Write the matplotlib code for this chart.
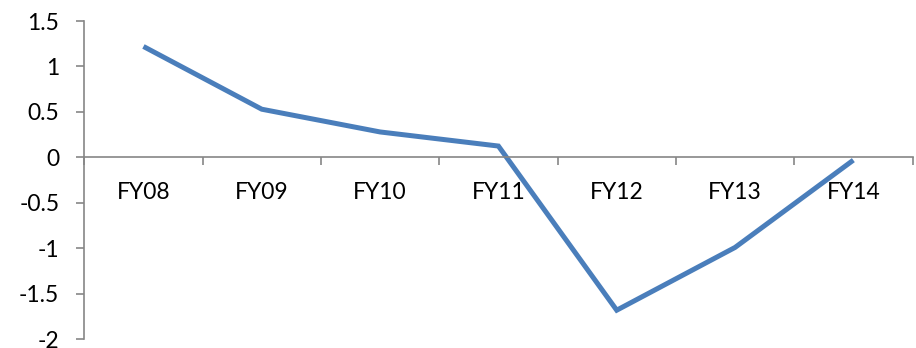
import matplotlib
matplotlib.use("Agg")
import matplotlib.pyplot as plt
import numpy as np

categories = ["FY08", "FY09", "FY10", "FY11", "FY12", "FY13", "FY14"]
values = [1.22, 0.53, 0.28, 0.125, -1.68, -0.99, -0.03]
y_ticks = [-2, -1.5, -1, -0.5, 0, 0.5, 1, 1.5]
y_labels = ["-2", "-1.5", "-1", "-0.5", "0", "0.5", "1", "1.5"]

plt.rcParams['font.family'] = ['Lato', 'DejaVu Sans']

W, H = 916, 348
fig = plt.figure(figsize=(W/100, H/100), dpi=100)
left, right, top, bottom = 84.3, 912.5, 21.0, 339.3
ax = fig.add_axes([left/W, 1-bottom/H, (right-left)/W, (bottom-top)/H])

x = np.arange(len(categories))
ax.plot(x, values, color="#4A7EBB", linewidth=3.6, solid_joinstyle="miter", solid_capstyle="butt")

ax.set_xlim(-0.5, len(categories)-0.5)
ax.set_ylim(-2, 1.5)

gray = "#868686"
for s in ["top", "right"]:
    ax.spines[s].set_visible(False)
ax.spines["left"].set_color(gray)
ax.spines["left"].set_linewidth(1.2)
ax.spines["bottom"].set_position(("data", 0))
ax.spines["bottom"].set_color(gray)
ax.spines["bottom"].set_linewidth(1.2)

ax.set_yticks(y_ticks)
ax.set_yticklabels(y_labels)
ax.tick_params(axis="y", direction="out", length=6, width=1.2, color=gray, pad=12, labelsize=16.5)

ax.set_xticks(np.arange(len(categories)+1)-0.5)
ax.set_xticklabels([])
ax.set_xticks(x, minor=True)
ax.set_xticklabels(categories, minor=True)
ax.tick_params(axis="x", which="minor", length=0, pad=18, labelsize=16.5)
ax.tick_params(axis="x", which="major", direction="out", length=5.5, width=1.2, color=gray)

fig.savefig("out.png", dpi=100)
